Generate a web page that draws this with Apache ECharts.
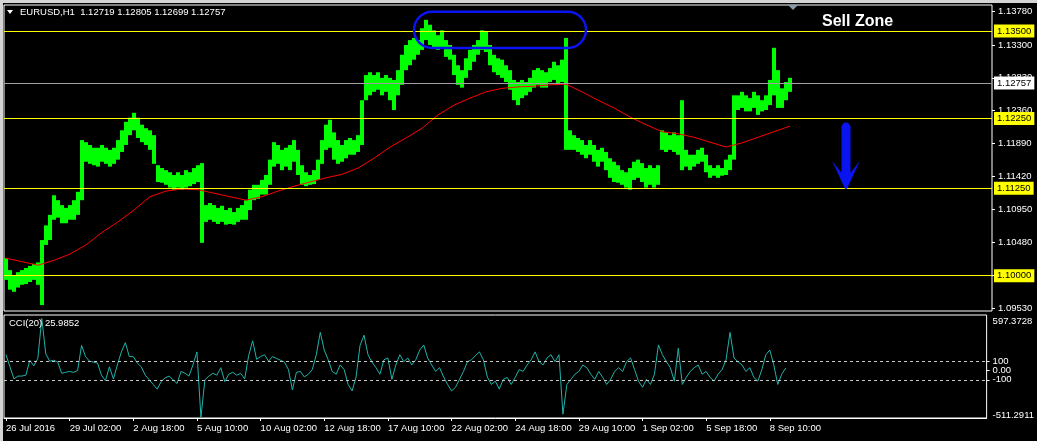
<!DOCTYPE html>
<html><head><meta charset="utf-8">
<script src="https://cdn.jsdelivr.net/npm/echarts@6/dist/echarts.min.js"></script>
<style>html,body{margin:0;padding:0;background:#000;}#c{width:1037px;height:441px;}</style>
</head><body><div id="c"></div>
<script>
// ---------- data ----------
const tickLabels = ['26 Jul 2016','29 Jul 02:00','2 Aug 18:00','5 Aug 10:00','10 Aug 02:00','12 Aug 18:00','17 Aug 10:00','22 Aug 02:00','24 Aug 18:00','29 Aug 10:00','1 Sep 02:00','5 Sep 18:00','8 Sep 10:00'];
const priceTicks = [1.09530,1.10000,1.10480,1.10950,1.11420,1.11890,1.12360,1.12830,1.13300,1.13780];
const levels = [1.13500,1.12250,1.11250,1.10000];
const lastPrice = 1.12757;
const priceMin = 1.09495, priceMax = 1.13872;

// 4-hour groups: low / high
const priceLow = [
1.0994,1.0980,1.0977,1.0983,1.0987,1.0988,1.0991,1.0994,1.0987,1.0958,
1.1044,1.1051,1.1080,1.1083,1.1075,1.1075,1.1080,1.1080,1.1087,1.1108,
1.1163,1.1160,1.1158,1.1156,1.1163,1.1160,1.1156,1.1160,1.1166,1.1177,
1.1187,1.1201,1.1208,1.1197,1.1191,1.1187,1.1180,1.1160,1.1134,1.1133,
1.1130,1.1126,1.1123,1.1126,1.1123,1.1126,1.1128,1.1131,1.1134,1.1047,
1.1077,1.1080,1.1077,1.1074,1.1077,1.1073,1.1074,1.1073,1.1077,1.1080,
1.1080,1.1094,1.1108,1.1110,1.1116,1.1116,1.1130,1.1156,1.1160,1.1151,
1.1156,1.1151,1.1163,1.1144,1.1130,1.1128,1.1130,1.1131,1.1137,1.1160,
1.1180,1.1183,1.1166,1.1160,1.1163,1.1168,1.1173,1.1173,1.1177,1.1187,
1.1251,1.1258,1.1263,1.1266,1.1258,1.1263,1.1251,1.1237,1.1258,1.1273,
1.1294,1.1301,1.1309,1.1316,1.1323,1.1337,1.1330,1.1326,1.1323,1.1326,
1.1313,1.1309,1.1287,1.1273,1.1269,1.1283,1.1294,1.1306,1.1316,1.1323,
1.1320,1.1301,1.1291,1.1287,1.1283,1.1277,1.1266,1.1251,1.1244,1.1254,
1.1258,1.1263,1.1269,1.1273,1.1269,1.1269,1.1277,1.1280,1.1273,1.1277,
1.1180,1.1180,1.1180,1.1177,1.1173,1.1168,1.1173,1.1163,1.1156,1.1163,
1.1151,1.1140,1.1134,1.1133,1.1130,1.1126,1.1123,1.1137,1.1140,1.1134,
1.1126,1.1130,1.1126,1.1130,1.1180,1.1177,1.1180,1.1177,1.1173,1.1151,
1.1156,1.1151,1.1156,1.1160,1.1163,1.1148,1.1140,1.1143,1.1140,1.1143,
1.1144,1.1151,1.1166,1.1237,1.1240,1.1235,1.1235,1.1240,1.1230,1.1235,
1.1237,1.1244,1.1258,1.1240,1.1240,1.1251,1.1263];
const priceHigh = [
1.1025,1.1008,1.1001,1.1005,1.1008,1.1011,1.1014,1.1017,1.1019,1.1051,
1.1072,1.1087,1.1115,1.1108,1.1101,1.1097,1.1101,1.1108,1.1120,1.1194,
1.1191,1.1187,1.1183,1.1183,1.1187,1.1183,1.1180,1.1183,1.1194,1.1208,
1.1220,1.1226,1.1233,1.1226,1.1216,1.1211,1.1208,1.1201,1.1158,1.1154,
1.1151,1.1148,1.1144,1.1148,1.1144,1.1151,1.1148,1.1154,1.1158,1.1161,
1.1101,1.1104,1.1101,1.1097,1.1100,1.1094,1.1097,1.1091,1.1097,1.1101,
1.1108,1.1123,1.1130,1.1130,1.1137,1.1144,1.1166,1.1191,1.1187,1.1180,
1.1183,1.1187,1.1194,1.1180,1.1158,1.1148,1.1144,1.1151,1.1166,1.1194,
1.1216,1.1223,1.1205,1.1194,1.1187,1.1194,1.1197,1.1194,1.1201,1.1251,
1.1287,1.1291,1.1287,1.1291,1.1283,1.1287,1.1283,1.1280,1.1294,1.1316,
1.1330,1.1337,1.1340,1.1337,1.1354,1.1366,1.1359,1.1351,1.1344,1.1351,
1.1337,1.1330,1.1316,1.1301,1.1294,1.1311,1.1323,1.1330,1.1337,1.1351,
1.1349,1.1330,1.1316,1.1311,1.1309,1.1301,1.1294,1.1280,1.1277,1.1280,
1.1277,1.1283,1.1294,1.1297,1.1294,1.1291,1.1297,1.1306,1.1301,1.1309,
1.1340,1.1208,1.1201,1.1197,1.1194,1.1187,1.1194,1.1187,1.1180,1.1183,
1.1177,1.1168,1.1163,1.1158,1.1151,1.1148,1.1154,1.1163,1.1166,1.1161,
1.1154,1.1158,1.1154,1.1158,1.1208,1.1205,1.1201,1.1205,1.1201,1.1251,
1.1180,1.1173,1.1173,1.1180,1.1183,1.1173,1.1158,1.1154,1.1158,1.1154,
1.1166,1.1173,1.1258,1.1258,1.1263,1.1258,1.1254,1.1263,1.1258,1.1251,
1.1258,1.1280,1.1326,1.1294,1.1268,1.1277,1.1283];

// moving average, one reading every 4 groups
const maStep = 4;
const maValues = [
1.1025,1.1020,1.1015,1.1022,1.1031,1.1044,1.1062,1.1077,1.1094,1.1113,
1.1121,1.1124,1.1123,1.1118,1.1113,1.1108,1.1113,1.1121,1.1128,1.1134,
1.1140,1.1145,1.1154,1.1168,1.1184,1.1197,1.1211,1.1230,1.1244,1.1254,
1.1263,1.1268,1.1270,1.1271,1.1273,1.1274,1.1263,1.1251,1.1240,1.1227,
1.1216,1.1206,1.1203,1.1198,1.1191,1.1184,1.1190,1.1198,1.1206,1.1214];

// CCI(20), one per group
const cciValues = [
170,40,-90,-60,-60,-50,110,50,130,560,
180,100,110,90,-30,-20,-10,-20,0,270,
150,100,90,80,-50,-110,40,-90,60,200,
300,150,150,80,40,-50,-100,-150,-200,-120,
-80,-60,-100,-140,-10,-30,-60,60,200,-505,
-100,-60,-30,-50,30,-120,-40,-20,-50,-30,
-90,160,320,120,150,170,100,150,130,110,
90,10,-210,-20,-10,-70,-40,10,170,410,
220,115,-10,-40,60,10,-150,-220,-70,270,
380,170,90,30,-40,115,135,-95,60,170,
95,135,60,115,220,275,135,60,-10,30,
-70,-150,-220,-180,-95,-10,95,115,160,200,
115,-70,-150,-115,-200,-95,-75,-150,-75,10,
-10,60,115,200,95,60,135,170,95,170,
-470,-150,-95,-40,-10,60,30,-40,-95,-10,
-75,-150,-95,-10,30,-10,95,135,10,-115,
-180,-95,-150,-40,275,170,95,30,-115,240,
-150,-75,-10,30,60,-40,-10,-75,-115,-40,
10,115,410,135,95,60,-10,30,-75,-115,
10,170,220,60,-150,-40,26];
const cciMin = -511.2911, cciMax = 597.3728;
const cciTicks = [597.3728, 100, 0, -100, -511.2911];
const cciLevels = [100, -100];

const nSlots = 247;      // 4-hour slots across the chart width
const labelEvery = 16;   // one time label every 64 hours

// annotations (in data coordinates)
const ellipseBox = {from: 101.7, to: 144.7, top: 1.13775, bottom: 1.13258};
const arrowAt = {slot: 209.9, top: 1.12190, tip: 1.11245};
const sellZone = {slot: 203.5, price: 1.13640, text: 'Sell Zone'};

// ---------- chart ----------
const categories = Array.from({length: nSlots}, (_, i) => String(i));
const FONT = '"Liberation Sans", Arial, sans-serif';
const FS = 9.5;
const tickShown = (i) => i % labelEvery === 0 && (i / labelEvery) < tickLabels.length;

const chart = echarts.init(document.getElementById('c'), null, {renderer: 'canvas'});

const option = {
  animation: false,
  backgroundColor: '#000',
  textStyle: {fontFamily: FONT},
  grid: [
    {left: 4, right: 45, top: 5, height: 306, show: true, borderColor: '#fff', borderWidth: 1, backgroundColor: '#000'},
    {left: 4, right: 45, top: 315, height: 103, show: true, borderColor: '#fff', borderWidth: 1, backgroundColor: '#000'}
  ],
  xAxis: [
    {type: 'category', gridIndex: 0, data: categories, boundaryGap: true, show: false, axisLine: {onZero: false}},
    {type: 'category', gridIndex: 1, data: categories, boundaryGap: true, position: 'bottom',
     axisLine: {show: true, onZero: false, lineStyle: {color: '#fff'}},
     axisTick: {show: true, alignWithLabel: true, interval: tickShown, length: 3, lineStyle: {color: '#fff'}},
     axisLabel: {show: true, interval: tickShown, color: '#fff', fontSize: FS, fontFamily: FONT, align: 'left', margin: 5,
       formatter: (v, i) => tickLabels[i / labelEvery] || ''},
     splitLine: {show: false}}
  ],
  yAxis: [
    {type: 'value', gridIndex: 0, position: 'right', min: priceMin, max: priceMax, scale: true,
     splitLine: {show: false}, axisLine: {show: false},
     axisTick: {show: true, customValues: priceTicks, length: 3, lineStyle: {color: '#fff'}},
     axisLabel: {show: true, customValues: priceTicks.filter(v => !levels.includes(v)), color: '#fff', fontSize: FS, fontFamily: FONT, margin: 6,
       formatter: v => Number(v).toFixed(5)}},
    {type: 'value', gridIndex: 1, position: 'right', min: cciMin, max: cciMax,
     splitLine: {show: false}, axisLine: {show: false},
     axisTick: {show: true, customValues: [100, 0, -100], length: 3, lineStyle: {color: '#fff'}},
     axisLabel: {show: true, customValues: cciTicks, color: '#fff', fontSize: FS, fontFamily: FONT, margin: 6,
       formatter: v => {
         if (v === cciMax) return '{t|' + v.toFixed(4) + '}';
         if (v === cciMin) return '{b|' + v.toFixed(4) + '}';
         if (v === 0) return '0.00';
         return String(v);
       },
       rich: {t: {padding: [12, 0, 0, 0], fontSize: FS, color: '#fff'}, b: {padding: [0, 0, 6, 0], fontSize: FS, color: '#fff'}}}}
  ],
  series: [
    {
      name: 'EURUSD', type: 'custom', xAxisIndex: 0, yAxisIndex: 0,
      data: priceLow.map((lo, i) => [i, lo, priceHigh[i]]),
      encode: {x: 0, y: [1, 2]},
      renderItem: (params, api) => {
        const i = api.value(0);
        const top = api.coord([i, api.value(2)]);
        const bot = api.coord([i, api.value(1)]);
        const w = api.size([1, 0])[0];
        return {type: 'rect', shape: {x: top[0] - w / 2, y: top[1], width: w, height: Math.max(1, bot[1] - top[1])},
                style: {fill: '#00ff00'}};
      },
      z: 3
    },
    {
      name: 'MA', type: 'line', xAxisIndex: 0, yAxisIndex: 0,
      data: maValues.map((v, k) => [k * maStep, v]),
      showSymbol: false, symbol: 'none', lineStyle: {color: '#ff0000', width: 1}, z: 4,
      markLine: {
        silent: true, symbol: ['none', 'none'], animation: false, precision: 5,
        lineStyle: {type: 'solid', width: 1},
        label: {show: true, position: 'end', distance: 2, fontSize: FS, fontFamily: FONT, padding: [2, 3, 1, 3],
                formatter: p => Number(p.value).toFixed(5)},
        data: levels.map(v => ({yAxis: v, lineStyle: {color: '#ffff00'}, label: {backgroundColor: '#ffff00', color: '#000'}}))
          .concat([{yAxis: lastPrice, lineStyle: {color: '#a0a0a0'}, label: {backgroundColor: '#ffffff', color: '#000'}}])
      }
    },
    {
      name: 'CCI', type: 'line', xAxisIndex: 1, yAxisIndex: 1,
      data: cciValues, showSymbol: false, symbol: 'none',
      lineStyle: {color: '#20b2aa', width: 1},
      markLine: {
        silent: true, symbol: ['none', 'none'], animation: false,
        lineStyle: {color: '#c8c8c8', type: [3, 3], width: 1},
        label: {show: false},
        data: cciLevels.map(v => ({yAxis: v}))
      }
    }
  ]
};
chart.setOption(option);

// ---------- annotations positioned from data coordinates ----------
const px = (slot, price) => chart.convertToPixel({gridIndex: 0}, [slot, price]);
const e0 = px(ellipseBox.from, ellipseBox.top), e1 = px(ellipseBox.to, ellipseBox.bottom);
const a0 = px(arrowAt.slot, arrowAt.top), a1 = px(arrowAt.slot, arrowAt.tip);
const sz = px(sellZone.slot, sellZone.price);
const cx = a0[0], hw = 4.5, bw = 14;
const headY = a1[1] - 28;

chart.setOption({
  graphic: [
    // window edges
    {type: 'rect', left: 0, top: 0, shape: {width: 1037, height: 3}, style: {fill: '#d4d4d4'}, z: 100},
    {type: 'rect', left: 0, top: 0, shape: {width: 3, height: 441}, style: {fill: '#d4d4d4'}, z: 100},
    // header
    {type: 'polygon', shape: {points: [[7, 10], [13, 10], [10, 14]]}, style: {fill: '#fff'}, z: 100},
    {type: 'text', left: 20, top: 7, style: {text: 'EURUSD,H1  1.12719 1.12805 1.12699 1.12757', fill: '#fff', font: FS + 'px ' + FONT}, z: 100},
    {type: 'text', left: 9, top: 318, style: {text: 'CCI(20) 25.9852', fill: '#fff', font: FS + 'px ' + FONT}, z: 100},
    // shift marker
    {type: 'polygon', shape: {points: [[788, 5], [798, 5], [793, 10]]}, style: {fill: '#8898a8'}, z: 100},
    // sell zone
    {type: 'text', x: sz[0], y: sz[1], style: {text: sellZone.text, fill: '#fff', font: 'bold 16px ' + FONT, textVerticalAlign: 'middle'}, z: 100},
    // ellipse
    {type: 'rect', shape: {x: e0[0], y: e0[1], width: e1[0] - e0[0], height: e1[1] - e0[1], r: (e1[1] - e0[1]) / 2},
     style: {fill: 'none', stroke: '#0a14f0', lineWidth: 2.5}, z: 100},
    // arrow
    {type: 'circle', shape: {cx: cx, cy: a0[1] + hw, r: hw}, style: {fill: '#0a14f0'}, z: 100},
    {type: 'polygon', shape: {points: [[cx - hw, a0[1] + hw], [cx + hw, a0[1] + hw], [cx + hw, headY + 12], [cx + bw, headY], [cx + 1, a1[1]], [cx - 1, a1[1]], [cx - bw, headY], [cx - hw, headY + 12]]},
     style: {fill: '#0a14f0'}, z: 100}
  ]
});
</script>
</body></html>
